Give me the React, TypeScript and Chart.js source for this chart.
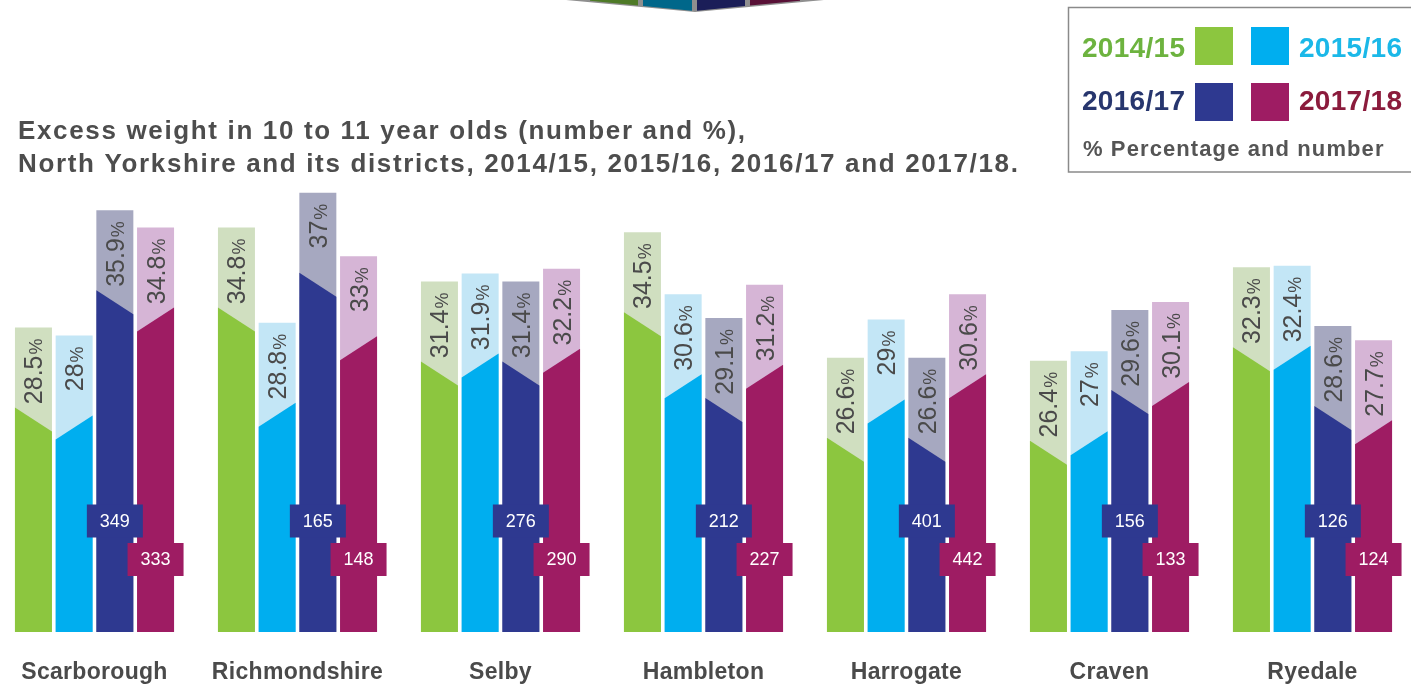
import React, { useEffect, useRef } from "react";
import { Chart, registerables } from "chart.js";

Chart.register(...registerables);

// ---- data ----
const districts = ["Scarborough", "Richmondshire", "Selby", "Hambleton", "Harrogate", "Craven", "Ryedale"];
const seriesLabels = ["2014/15", "2015/16", "2016/17", "2017/18"];
const pct1415 = [28.5, 34.8, 31.4, 34.5, 26.6, 26.4, 32.3];
const pct1516 = [28, 28.8, 31.9, 30.6, 29, 27, 32.4];
const pct1617 = [35.9, 37, 31.4, 29.1, 26.6, 29.6, 28.6];
const pct1718 = [34.8, 33, 32.2, 31.2, 30.6, 30.1, 27.7];
const num1617 = [349, 165, 276, 212, 401, 156, 126];
const num1718 = [333, 148, 290, 227, 442, 133, 124];
const titleLines = [
  "Excess weight in 10 to 11 year olds (number and %),",
  "North Yorkshire and its districts, 2014/15, 2015/16, 2016/17 and 2017/18.",
];
const legendNote = "% Percentage and number";
const Y_MIN = 9.3;
const Y_MAX = 37.8;

// ---- styles ----
const solidColors = ["#8cc63f", "#00aeef", "#2e3990", "#9e1c63"];
const lightColors = ["#d0dfc0", "#c3e6f6", "#a6a8c0", "#d6b5d6"];
const legendTextColors = ["#6db33f", "#1bb8e8", "#27366e", "#8b1b3c"];
const decoColors = ["#4e7a27", "#00678a", "#1b1e58", "#581036"];
const OX = 7; // canvas shifted left by 7px
const FONT = '"Liberation Sans", Arial, sans-serif';

const allSeries = [pct1415, pct1516, pct1617, pct1718];
const numberSeries: Record<number, number[]> = { 2: num1617, 3: num1718 };
const boxOffset: Record<number, number> = { 2: 111, 3: 72.5 };

const customPlugin = {
  id: "customDraw",
  beforeDatasetsDraw(chart: any) {
    const ctx = chart.ctx as CanvasRenderingContext2D;
    ctx.save();
    ctx.translate(OX, 0);
    // top decorative chevron
    ctx.fillStyle = "#8f8f8f";
    ctx.beginPath();
    ctx.moveTo(566, 0);
    ctx.lineTo(824, 0);
    ctx.lineTo(695, 12);
    ctx.closePath();
    ctx.fill();
    const segs = [[590, 638], [643, 692], [697, 745], [750, 800]];
    const yb = (x: number) => Math.max(0, 11 - Math.abs(x - 695) * 0.098);
    segs.forEach((s, i) => {
      ctx.fillStyle = decoColors[i];
      ctx.beginPath();
      ctx.moveTo(s[0], 0);
      ctx.lineTo(s[1], 0);
      ctx.lineTo(s[1], yb(s[1]));
      ctx.lineTo(s[0], yb(s[0]));
      ctx.closePath();
      ctx.fill();
    });

    // title
    ctx.fillStyle = "#4d4d4d";
    ctx.font = `bold 26px ${FONT}`;
    (ctx as any).letterSpacing = "1.65px";
    ctx.textAlign = "left";
    ctx.textBaseline = "alphabetic";
    ctx.fillText(titleLines[0], 18, 139);
    ctx.fillText(titleLines[1], 18, 172);

    // legend
    (ctx as any).letterSpacing = "0.3px";
    ctx.strokeStyle = "#8a8a8a";
    ctx.lineWidth = 1.5;
    ctx.strokeRect(1068.5, 7.5, 360, 164.5);
    const pos = [
      { tx: 1082, ty: 57, sx: 1195, sy: 27 },
      { tx: 1299, ty: 57, sx: 1251, sy: 27 },
      { tx: 1082, ty: 110, sx: 1195, sy: 83 },
      { tx: 1299, ty: 110, sx: 1251, sy: 83 },
    ];
    ctx.font = `bold 28px ${FONT}`;
    pos.forEach((p, i) => {
      ctx.fillStyle = solidColors[i];
      ctx.fillRect(p.sx, p.sy, 38, 38);
      ctx.fillStyle = legendTextColors[i];
      ctx.fillText(seriesLabels[i], p.tx, p.ty);
    });
    ctx.fillStyle = "#555555";
    ctx.font = `bold 22px ${FONT}`;
    (ctx as any).letterSpacing = "1.1px";
    ctx.fillText(legendNote, 1083, 156);

    // category labels (positioned by the x scale)
    const xs = chart.scales.x;
    ctx.font = `bold 23px ${FONT}`;
    (ctx as any).letterSpacing = "0.3px";
    ctx.fillStyle = "#4a4a4a";
    ctx.textAlign = "center";
    districts.forEach((name, i) => {
      ctx.fillText(name, xs.getPixelForValue(i) - OX, 679);
    });
    (ctx as any).letterSpacing = "0px";
    ctx.restore();
  },
  afterDatasetsDraw(chart: any) {
    const ctx = chart.ctx as CanvasRenderingContext2D;
    ctx.save();
    // solid lower parts with diagonal tops
    for (let d = 0; d < 4; d++) {
      const meta = chart.getDatasetMeta(d);
      meta.data.forEach((bar: any) => {
        const l = bar.x - bar.width / 2;
        const r = bar.x + bar.width / 2;
        const hi = bar.y + 80;
        const lo = bar.y + 104;
        const yl = d % 2 === 0 ? hi : lo;
        const yr = d % 2 === 0 ? lo : hi;
        ctx.fillStyle = solidColors[d];
        ctx.beginPath();
        ctx.moveTo(l, yl);
        ctx.lineTo(r, yr);
        ctx.lineTo(r, bar.base);
        ctx.lineTo(l, bar.base);
        ctx.closePath();
        ctx.fill();
      });
    }
    // percent labels
    for (let d = 0; d < 4; d++) {
      const meta = chart.getDatasetMeta(d);
      meta.data.forEach((bar: any, i: number) => {
        const v = allSeries[d][i];
        ctx.save();
        ctx.translate(bar.x + 9, bar.y + 11);
        ctx.rotate(-Math.PI / 2);
        ctx.fillStyle = "#4a4a4a";
        ctx.textAlign = "right";
        ctx.textBaseline = "alphabetic";
        ctx.font = `18px ${FONT}`;
        ctx.fillText("%", 0, 0);
        const pw = ctx.measureText("%").width;
        ctx.font = `25px ${FONT}`;
        ctx.fillText(String(v), -pw - 1, 0);
        ctx.restore();
      });
    }
    // number boxes
    [2, 3].forEach((d) => {
      const meta = chart.getDatasetMeta(d);
      meta.data.forEach((bar: any, i: number) => {
        const cy = bar.base - boxOffset[d];
        ctx.fillStyle = solidColors[d];
        ctx.fillRect(bar.x - 28, cy - 16.5, 56, 33);
        ctx.fillStyle = "#ffffff";
        ctx.font = `18px ${FONT}`;
        ctx.textAlign = "center";
        ctx.textBaseline = "middle";
        ctx.fillText(String(numberSeries[d][i]), bar.x, cy + 1);
      });
    });
    ctx.restore();
  },
};

export default function App() {
  const canvasRef = useRef<HTMLCanvasElement | null>(null);

  useEffect(() => {
    if (!canvasRef.current) return;
    const chart = new Chart(canvasRef.current, {
      type: "bar",
      data: {
        labels: districts,
        datasets: allSeries.map((s, i) => ({
          label: seriesLabels[i],
          data: s,
          base: Y_MIN,
          backgroundColor: lightColors[i],
          borderWidth: 0,
          categoryPercentage: 0.802,
          barPercentage: 0.909,
        })),
      },
      options: {
        responsive: false,
        animation: false,
        devicePixelRatio: 1,
        layout: { padding: { top: 180, left: 0, right: 0, bottom: 54 } },
        plugins: {
          legend: { display: false },
          tooltip: { enabled: false },
          title: { display: false },
        },
        scales: {
          x: { display: false },
          y: { display: false, beginAtZero: false, min: Y_MIN, max: Y_MAX },
        },
      },
      plugins: [customPlugin],
    } as any);
    return () => chart.destroy();
  }, []);

  return (
    <div style={{ position: "fixed", left: 0, top: 0, width: 1411, height: 686, overflow: "hidden", background: "#fff" }}>
      <canvas ref={canvasRef} width={1421} height={686} style={{ position: "absolute", left: -OX, top: 0 }} />
    </div>
  );
}
